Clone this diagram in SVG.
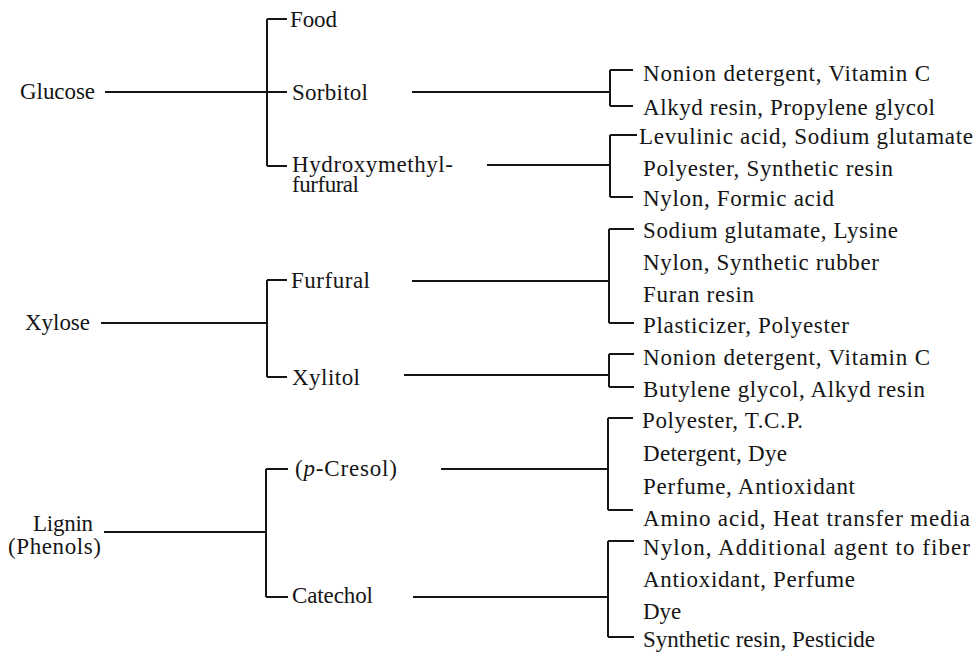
<svg xmlns="http://www.w3.org/2000/svg" width="979" height="653" viewBox="0 0 979 653">
<rect width="979" height="653" fill="#fff"/>
<g id="connectors" fill="none" stroke="#151515" stroke-width="2">
<path d="M105 92H287M267 19V166M267 19H287M267 166H287"/>
<path d="M101 323H267M267 280V377M267 280H287M267 377H287"/>
<path d="M104 532H266M266 469V597M266 469H288M266 597H288"/>
<path d="M412 92H610M610 70V106M610 70H633M610 106H633"/>
<path d="M487 165H610M610 135V197M610 135H637M610 197H633"/>
<path d="M412 281H609M609 229V323M609 229H634M609 323H634"/>
<path d="M404 375H609M609 354V387M609 354H634M609 387H634"/>
<path d="M441 469H608M608 418V510M608 418H633M608 510H633"/>
<path d="M413 597H608M608 541V637M608 541H634M608 637H634"/>
</g>
<g id="glucose"><text font-family="Liberation Serif" font-size="23" fill="#151515" x="20" y="99" textLength="75">Glucose</text></g>
<g id="xylose"><text font-family="Liberation Serif" font-size="23" fill="#151515" x="25" y="330" textLength="65">Xylose</text></g>
<g id="lignin"><text font-family="Liberation Serif" font-size="23" fill="#151515" x="33" y="531" textLength="60">Lignin</text><text font-family="Liberation Serif" font-size="23" fill="#151515" x="8" y="554" textLength="93">(Phenols)</text></g>
<g id="food"><text font-family="Liberation Serif" font-size="23" fill="#151515" x="290" y="27" textLength="47">Food</text></g>
<g id="sorbitol"><text font-family="Liberation Serif" font-size="23" fill="#151515" x="292" y="100" textLength="76">Sorbitol</text></g>
<g id="hmf"><text font-family="Liberation Serif" font-size="23" fill="#151515" x="292" y="172" textLength="161">Hydroxymethyl-</text><text font-family="Liberation Serif" font-size="23" fill="#151515" x="292" y="192" textLength="67">furfural</text></g>
<g id="furfural"><text font-family="Liberation Serif" font-size="23" fill="#151515" x="291" y="288" textLength="79">Furfural</text></g>
<g id="xylitol"><text font-family="Liberation Serif" font-size="23" fill="#151515" x="292" y="385" textLength="68">Xylitol</text></g>
<g id="pcresol"><text font-family="Liberation Serif" font-size="23" fill="#151515" x="295" y="476" textLength="102">(<tspan font-style="italic">p</tspan>-Cresol)</text></g>
<g id="catechol"><text font-family="Liberation Serif" font-size="23" fill="#151515" x="292" y="603" textLength="81">Catechol</text></g>
<g id="s1"><text font-family="Liberation Serif" font-size="23" fill="#151515" x="643" y="81" textLength="287">Nonion detergent, Vitamin C</text></g>
<g id="s2"><text font-family="Liberation Serif" font-size="23" fill="#151515" x="643" y="115" textLength="292">Alkyd resin, Propylene glycol</text></g>
<g id="h1"><text font-family="Liberation Serif" font-size="23" fill="#151515" x="639" y="144" textLength="334">Levulinic acid, Sodium glutamate</text></g>
<g id="h2"><text font-family="Liberation Serif" font-size="23" fill="#151515" x="643" y="176" textLength="250">Polyester, Synthetic resin</text></g>
<g id="h3"><text font-family="Liberation Serif" font-size="23" fill="#151515" x="643" y="206" textLength="191">Nylon, Formic acid</text></g>
<g id="f1"><text font-family="Liberation Serif" font-size="23" fill="#151515" x="643" y="238" textLength="255">Sodium glutamate, Lysine</text></g>
<g id="f2"><text font-family="Liberation Serif" font-size="23" fill="#151515" x="643" y="270" textLength="236">Nylon, Synthetic rubber</text></g>
<g id="f3"><text font-family="Liberation Serif" font-size="23" fill="#151515" x="643" y="302" textLength="111">Furan resin</text></g>
<g id="f4"><text font-family="Liberation Serif" font-size="23" fill="#151515" x="643" y="333" textLength="206">Plasticizer, Polyester</text></g>
<g id="x1"><text font-family="Liberation Serif" font-size="23" fill="#151515" x="643" y="365" textLength="287">Nonion detergent, Vitamin C</text></g>
<g id="x2"><text font-family="Liberation Serif" font-size="23" fill="#151515" x="643" y="397" textLength="282">Butylene glycol, Alkyd resin</text></g>
<g id="p1"><text font-family="Liberation Serif" font-size="23" fill="#151515" x="642" y="428" textLength="161">Polyester, T.C.P.</text></g>
<g id="p2"><text font-family="Liberation Serif" font-size="23" fill="#151515" x="643" y="461" textLength="144">Detergent, Dye</text></g>
<g id="p3"><text font-family="Liberation Serif" font-size="23" fill="#151515" x="643" y="494" textLength="212">Perfume, Antioxidant</text></g>
<g id="p4"><text font-family="Liberation Serif" font-size="23" fill="#151515" x="643" y="526" textLength="327">Amino acid, Heat transfer media</text></g>
<g id="c1"><text font-family="Liberation Serif" font-size="23" fill="#151515" x="643" y="555" textLength="327">Nylon, Additional agent to fiber</text></g>
<g id="c2"><text font-family="Liberation Serif" font-size="23" fill="#151515" x="643" y="587" textLength="212">Antioxidant, Perfume</text></g>
<g id="c3"><text font-family="Liberation Serif" font-size="23" fill="#151515" x="643" y="619">Dye</text></g>
<g id="c4"><text font-family="Liberation Serif" font-size="23" fill="#151515" x="643" y="647" textLength="232">Synthetic resin, Pesticide</text></g>
</svg>
